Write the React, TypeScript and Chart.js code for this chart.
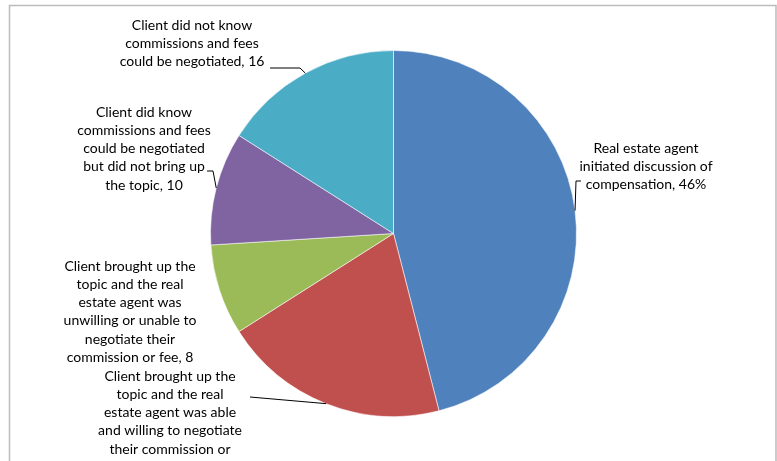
import React, { useEffect, useRef } from "react";
import { Chart, registerables } from "chart.js";

Chart.register(...registerables);

const categories = [
  "Real estate agent initiated discussion of compensation",
  "Client brought up the topic and the real estate agent was able and willing to negotiate their commission or fee",
  "Client brought up the topic and the real estate agent was unwilling or unable to negotiate their commission or fee",
  "Client did know commissions and fees could be negotiated but did not bring up the topic",
  "Client did not know commissions and fees could be negotiated",
];
const labelLines: string[][] = [
  ["Real estate agent", "initiated discussion of", "compensation"],
  ["Client brought up the", "topic and the real", "estate agent was able", "and willing to negotiate", "their commission or", "fee"],
  ["Client brought up the", "topic and the real", "estate agent was", "unwilling or unable to", "negotiate their", "commission or fee"],
  ["Client did know", "commissions and fees", "could be negotiated", "but did not bring up", "the topic"],
  ["Client did not know", "commissions and fees", "could be negotiated"],
];
const values = [46, 20, 8, 10, 16];
const valueSuffix = ["%", "", "", "", ""];
const colors = ["#4F81BD", "#C0504D", "#9BBB59", "#8064A2", "#4BACC6"];

// label layout: center x, first line center y, leader points on the label side
const labelLayout = [
  { cx: 646, top: 148, leader: [[581, 181], [576, 181]] },
  { cx: 170, top: 376, leader: [[250, 397]] },
  { cx: 130, top: 266, leader: [] as number[][] },
  { cx: 144, top: 112, leader: [[207, 171], [213, 171]] },
  { cx: 192, top: 25, leader: [[270, 68], [300, 68]] },
];
const LINE_H = 18.3;
const FONT = "14px Lato, 'Noto Sans', sans-serif";

const framePlugin = {
  id: "frame",
  beforeDraw(chart: any) {
    const ctx = chart.ctx;
    ctx.save();
    ctx.fillStyle = "#ffffff";
    ctx.fillRect(0, 0, chart.width, chart.height);
    ctx.strokeStyle = "#bcbcbc";
    ctx.lineWidth = 1.5;
    ctx.beginPath();
    ctx.moveTo(9.5, chart.height + 5);
    ctx.lineTo(9.5, 5.5);
    ctx.lineTo(776, 5.5);
    ctx.lineTo(776, chart.height + 5);
    ctx.stroke();
    ctx.restore();
  },
};

const labelPlugin = {
  id: "pieLabels",
  afterDatasetsDraw(chart: any) {
    const ctx = chart.ctx;
    const meta = chart.getDatasetMeta(0);
    ctx.save();
    meta.data.forEach((arc: any, i: number) => {
      const p = arc.getProps(["x", "y", "startAngle", "endAngle", "outerRadius"], true);
      const mid = (p.startAngle + p.endAngle) / 2;
      const ex = p.x + Math.cos(mid) * p.outerRadius;
      const ey = p.y + Math.sin(mid) * p.outerRadius;
      const lay = labelLayout[i];
      if (lay.leader.length) {
        ctx.strokeStyle = "#000000";
        ctx.lineWidth = 1;
        ctx.beginPath();
        ctx.moveTo(lay.leader[0][0], lay.leader[0][1]);
        for (let k = 1; k < lay.leader.length; k++) ctx.lineTo(lay.leader[k][0], lay.leader[k][1]);
        ctx.lineTo(ex, ey);
        ctx.stroke();
      }
      const lines = labelLines[i].slice();
      lines[lines.length - 1] = lines[lines.length - 1] + ", " + values[i] + valueSuffix[i];
      ctx.fillStyle = "#000000";
      ctx.font = FONT;
      ctx.textAlign = "center";
      ctx.textBaseline = "middle";
      lines.forEach((t, k) => ctx.fillText(t, lay.cx, lay.top + k * LINE_H));
    });
    ctx.restore();
  },
};

export default function App() {
  const ref = useRef<HTMLCanvasElement | null>(null);
  useEffect(() => {
    if (!ref.current) return;
    const chart = new Chart(ref.current, {
      type: "pie",
      data: {
        labels: categories,
        datasets: [
          {
            data: values,
            backgroundColor: colors,
            borderColor: "rgba(255,255,255,0.55)",
            borderWidth: 1,
          },
        ],
      },
      options: {
        responsive: false,
        animation: false,
        events: [],
        layout: { padding: { left: 210, right: 200, top: 50, bottom: 44 } },
        plugins: {
          legend: { display: false },
          tooltip: { enabled: false },
        },
      },
      plugins: [framePlugin, labelPlugin],
    });
    return () => chart.destroy();
  }, []);
  return (
    <div style={{ position: "absolute", left: 0, top: 0, width: 777, height: 461 }}>
      <canvas ref={ref} width={777} height={461} style={{ display: "block" }} />
    </div>
  );
}
